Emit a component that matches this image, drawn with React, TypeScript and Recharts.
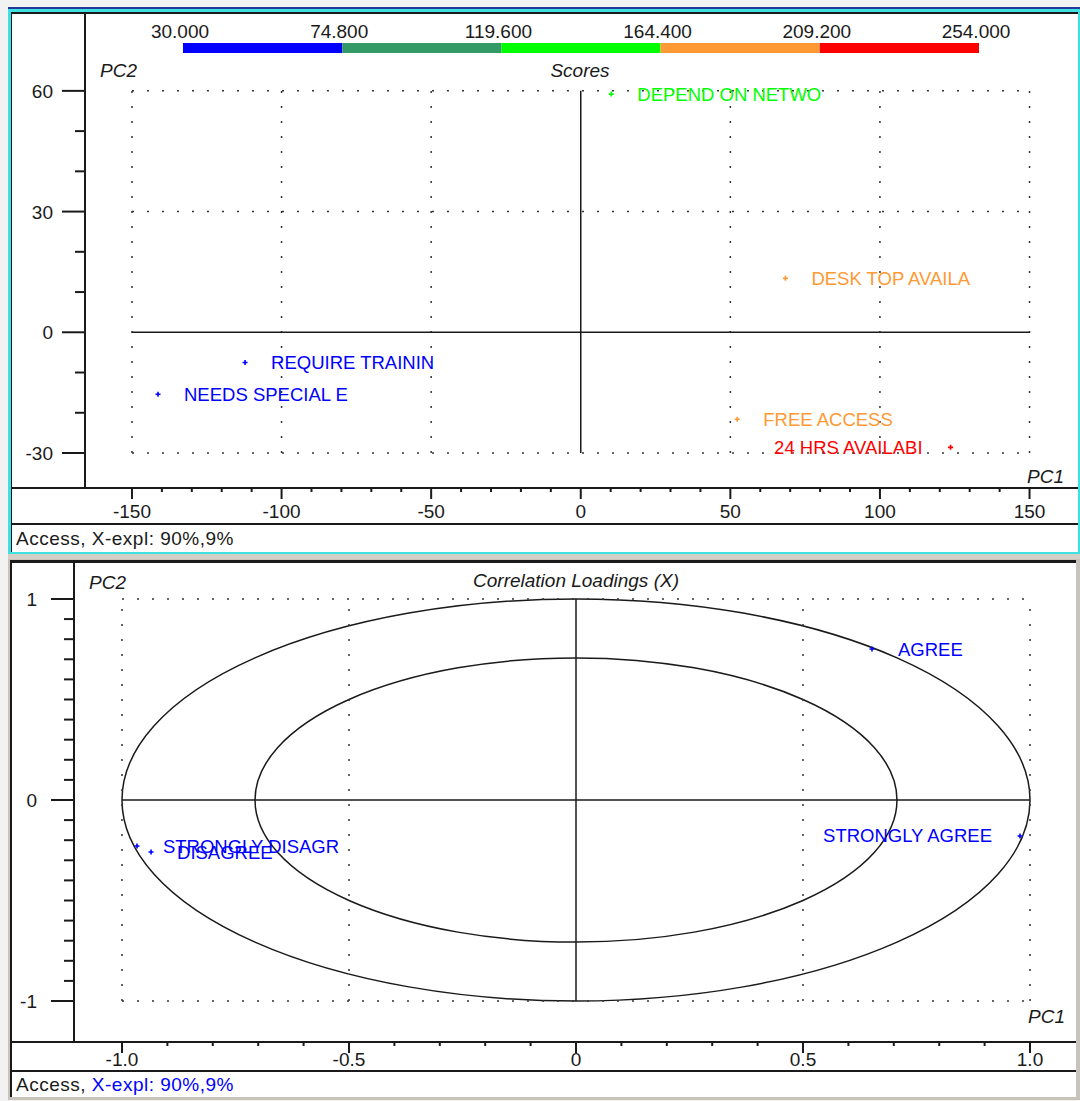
import {
  BarChart,
  Bar,
  ScatterChart,
  Scatter,
  XAxis,
  YAxis,
  ReferenceLine,
  ReferenceArea,
} from "recharts";

const FONT = '"Liberation Sans", Arial, Helvetica, sans-serif';
const INK = "#1a1a1a";

// colour classes used on the scores plot
const classBreaks = [30, 74.8, 119.6, 164.4, 209.2, 254];
const classColors = ["#0000ff", "#339966", "#00ff00", "#ff9933", "#ff0000"];

// Scores (PC1 / PC2)
const scoreNames = [
  "DEPEND ON NETWO",
  "DESK TOP AVAILA",
  "REQUIRE TRAININ",
  "NEEDS SPECIAL E",
  "FREE ACCESS",
  "24 HRS AVAILABI",
];
const scorePC1 = [10.2, 68.4, -112.2, -141.3, 52.3, 123.6];
const scorePC2 = [59.2, 13.4, -7.5, -15.4, -21.6, -28.6];
const scoreClass = [2, 3, 0, 0, 3, 4];

const scoreXTicks = [
  -150, -140, -130, -120, -110, -100, -90, -80, -70, -60, -50, -40, -30, -20, -10, 0,
  10, 20, 30, 40, 50, 60, 70, 80, 90, 100, 110, 120, 130, 140, 150,
];
const scoreYTicks = [-30, -20, -10, 0, 10, 20, 30, 40, 50, 60];
const scoreGridX = [-150, -100, -50, 50, 100, 150];
const scoreGridY = [60, 30, -30];

// Correlation loadings (X)
const loadNames = ["AGREE", "STRONGLY AGREE", "STRONGLY DISAGR", "DISAGREE"];
const loadPC1 = [0.652, 0.978, -0.967, -0.936];
const loadPC2 = [0.751, -0.179, -0.229, -0.259];

const loadTicks = [
  -1, -0.9, -0.8, -0.7, -0.6, -0.5, -0.4, -0.3, -0.2, -0.1, 0,
  0.1, 0.2, 0.3, 0.4, 0.5, 0.6, 0.7, 0.8, 0.9, 1,
];
const loadGridX = [-1, -0.5, 0.5, 1];
const loadGridY = [1, -1];
const circleRadii = [1, 0.707];

const scoreData = scoreNames.map((name, i) => ({
  name,
  x: scorePC1[i],
  y: scorePC2[i],
  color: classColors[scoreClass[i]],
}));

const loadData = loadNames.map((name, i) => ({
  name,
  x: loadPC1[i],
  y: loadPC2[i],
  color: "#0000ff",
}));

// one stacked row: transparent base up to the first break, then one segment per class
const colourRow: Record<string, number | string> = { name: "classes", base: classBreaks[0] };
classColors.forEach((_, i) => {
  colourRow[`c${i}`] = classBreaks[i + 1] - classBreaks[i];
});

const scoreXDomain = [-165.7, 166.2];
const scoreYDomain = [-38.7, 79.6];
const loadXDomain = [-1.1057, 1.1057];
const loadYDomain = [-1.204, 1.179];

const dotted = { stroke: "#333", strokeWidth: 1.5, strokeDasharray: "2 13" };

function pointShape(xMax: number) {
  return (p: any) => {
    const { cx, cy, payload } = p;
    const left = payload.x > xMax * 0.7;
    return (
      <g>
        <path
          d={`M${cx - 2.5},${cy}H${cx + 2.5}M${cx},${cy - 2.5}V${cy + 2.5}`}
          stroke={payload.color}
          strokeWidth={1.6}
        />
        <text
          x={left ? cx - 28 : cx + 26}
          y={cy + 6.5}
          textAnchor={left ? "end" : "start"}
          fill={payload.color}
          fontSize={18.5}
          fontFamily={FONT}
        >
          {payload.name}
        </text>
      </g>
    );
  };
}

function xTick(isMajor: (v: number) => boolean, fmt: (v: number) => string, labelGap: number) {
  return (p: any) => {
    const v = p.payload.value;
    const major = isMajor(v);
    return (
      <g>
        <line x1={p.x} x2={p.x} y1={p.y} y2={p.y + (major ? 11 : 4)} stroke={INK} strokeWidth={2} />
        {major && (
          <text x={p.x} y={p.y + labelGap + 7} textAnchor="middle" fontSize={19} fill={INK} fontFamily={FONT}>
            {fmt(v)}
          </text>
        )}
      </g>
    );
  };
}

function yTick(isMajor: (v: number) => boolean, fmt: (v: number) => string, labelGap: number) {
  return (p: any) => {
    const v = p.payload.value;
    const major = isMajor(v);
    return (
      <g>
        <line x1={p.x - (major ? 23 : 10)} x2={p.x} y1={p.y} y2={p.y} stroke={INK} strokeWidth={2} />
        {major && (
          <text x={p.x - labelGap} y={p.y + 7} textAnchor="end" fontSize={19} fill={INK} fontFamily={FONT}>
            {fmt(v)}
          </text>
        )}
      </g>
    );
  };
}

const near = (a: number, b: number) => Math.abs(a - b) < 1e-6;

function ColourBar() {
  return (
    <BarChart
      width={1080}
      height={60}
      layout="vertical"
      data={[colourRow]}
      barCategoryGap={0}
      margin={{ top: 10, right: 101, bottom: 7, left: 183 }}
    >
      <XAxis
        type="number"
        orientation="top"
        domain={[classBreaks[0], classBreaks[classBreaks.length - 1]]}
        allowDataOverflow
        ticks={classBreaks}
        interval={0}
        height={33}
        axisLine={false}
        tickLine={false}
        tickSize={0}
        tickMargin={0}
        tick={(p: any) => (
          <text x={p.x - 3} y={p.y - 5} textAnchor="middle" fontSize={19} fill={INK} fontFamily={FONT}>
            {Number(p.payload.value).toFixed(3)}
          </text>
        )}
      />
      <YAxis type="category" dataKey="name" hide />
      <Bar dataKey="base" stackId="s" fill="transparent" isAnimationActive={false} />
      {classColors.map((c, i) => (
        <Bar key={c} dataKey={`c${i}`} stackId="s" fill={c} isAnimationActive={false} />
      ))}
    </BarChart>
  );
}

function ScoresChart() {
  return (
    <ScatterChart width={1080} height={560} margin={{ top: 12, right: 2, bottom: 36, left: 12 }}>
      <XAxis
        type="number"
        dataKey="x"
        domain={scoreXDomain}
        allowDataOverflow
        ticks={scoreXTicks}
        interval={0}
        height={36}
        axisLine={false}
        tickLine={false}
        tickSize={0}
        tickMargin={0}
        tick={xTick((v) => v % 50 === 0, (v) => String(v), 23)}
      />
      <YAxis
        type="number"
        dataKey="y"
        domain={scoreYDomain}
        allowDataOverflow
        ticks={scoreYTicks}
        interval={0}
        width={73}
        axisLine={{ stroke: INK, strokeWidth: 2 }}
        tickLine={false}
        tickSize={0}
        tickMargin={0}
        tick={yTick((v) => v % 30 === 0, (v) => String(v), 32)}
      />
      {scoreGridX.map((gx) => (
        <ReferenceLine
          key={`gx${gx}`}
          segment={[{ x: gx, y: scoreGridY[scoreGridY.length - 1] }, { x: gx, y: scoreGridY[0] }]}
          {...dotted}
        />
      ))}
      {scoreGridY.map((gy) => (
        <ReferenceLine
          key={`gy${gy}`}
          segment={[{ x: scoreGridX[0], y: gy }, { x: scoreGridX[scoreGridX.length - 1], y: gy }]}
          {...dotted}
        />
      ))}
      <ReferenceLine
        segment={[{ x: 0, y: scoreGridY[scoreGridY.length - 1] }, { x: 0, y: scoreGridY[0] }]}
        stroke={INK}
        strokeWidth={1.5}
      />
      <ReferenceLine
        segment={[{ x: scoreGridX[0], y: 0 }, { x: scoreGridX[scoreGridX.length - 1], y: 0 }]}
        stroke={INK}
        strokeWidth={1.5}
      />
      <Scatter data={scoreData} shape={pointShape(scoreXDomain[1])} isAnimationActive={false} />
    </ScatterChart>
  );
}

function LoadingsChart() {
  return (
    <ScatterChart width={1080} height={540} margin={{ top: 3, right: 2, bottom: 22, left: 12 }}>
      <XAxis
        type="number"
        dataKey="x"
        domain={loadXDomain}
        allowDataOverflow
        ticks={loadTicks}
        interval={0}
        height={36}
        axisLine={false}
        tickLine={false}
        tickSize={0}
        tickMargin={0}
        tick={xTick(
          (v) => near(v * 2, Math.round(v * 2)),
          (v) => (v === 0 ? "0" : v.toFixed(1)),
          17
        )}
      />
      <YAxis
        type="number"
        dataKey="y"
        domain={loadYDomain}
        allowDataOverflow
        ticks={loadTicks}
        interval={0}
        width={62}
        axisLine={{ stroke: INK, strokeWidth: 2 }}
        tickLine={false}
        tickSize={0}
        tickMargin={0}
        tick={yTick((v) => near(v, Math.round(v)), (v) => String(v), 37)}
      />
      {loadGridX.map((gx) => (
        <ReferenceLine key={`gx${gx}`} segment={[{ x: gx, y: -1 }, { x: gx, y: 1 }]} {...dotted} />
      ))}
      {loadGridY.map((gy) => (
        <ReferenceLine key={`gy${gy}`} segment={[{ x: -1, y: gy }, { x: 1, y: gy }]} {...dotted} />
      ))}
      {circleRadii.map((r) => (
        <ReferenceArea
          key={`c${r}`}
          x1={-r}
          x2={r}
          y1={-r}
          y2={r}
          shape={(p: any) => (
            <ellipse
              cx={p.x + p.width / 2}
              cy={p.y + p.height / 2}
              rx={Math.abs(p.width) / 2}
              ry={Math.abs(p.height) / 2}
              fill="none"
              stroke={INK}
              strokeWidth={1.5}
            />
          )}
        />
      ))}
      <ReferenceLine segment={[{ x: 0, y: -1 }, { x: 0, y: 1 }]} stroke={INK} strokeWidth={1.5} />
      <ReferenceLine segment={[{ x: -1, y: 0 }, { x: 1, y: 0 }]} stroke={INK} strokeWidth={1.5} />
      <Scatter data={loadData} shape={pointShape(loadXDomain[1])} isAnimationActive={false} />
    </ScatterChart>
  );
}

const abs = (left: number, top: number, width: number, height: number, extra: any = {}) => ({
  position: "absolute" as const,
  left,
  top,
  width,
  height,
  boxSizing: "border-box" as const,
  ...extra,
});

export default function App() {
  const italic = { fontSize: 19, fontStyle: "italic", fill: INK, fontFamily: FONT };
  return (
    <div style={abs(0, 0, 1080, 1101, { background: "#f2f2f2", overflow: "hidden" })}>
      {/* top panel frame */}
      <div style={abs(8, 7, 1072, 2, { background: "#23389a" })} />
      <div style={abs(8, 9, 1072, 545, { background: "#3fe0e0" })} />
      <div
        style={abs(11, 12, 1067, 540, {
          background: "#ffffff",
          borderTop: `2px solid ${INK}`,
          borderLeft: `1px solid ${INK}`,
        })}
      />
      <div style={abs(11, 487, 1067, 2, { background: INK })} />
      <div style={abs(11, 523, 1067, 2, { background: INK })} />
      <div style={abs(8, 554, 1072, 5, { background: "#d4d0c8" })} />
      {/* bottom panel frame */}
      <div style={abs(8, 559, 1072, 541, { background: "#c8c4bc" })} />
      <div
        style={abs(10, 560, 1066, 537, {
          background: "#ffffff",
          borderTop: `3px solid ${INK}`,
          borderLeft: `2px solid ${INK}`,
        })}
      />
      <div style={abs(10, 1041, 1066, 2, { background: INK })} />
      <div style={abs(10, 1070, 1066, 2, { background: INK })} />

      <div style={abs(0, 0, 1080, 60)}>
        <ColourBar />
      </div>
      <div style={abs(0, 0, 1080, 560)}>
        <ScoresChart />
      </div>
      <div style={abs(0, 560, 1080, 540)}>
        <LoadingsChart />
      </div>

      <svg width={1080} height={1101} style={abs(0, 0, 1080, 1101, { pointerEvents: "none" })}>
        <text x={100} y={77} {...italic}>PC2</text>
        <text x={580} y={77} textAnchor="middle" {...italic}>Scores</text>
        <text x={1027} y={483} {...italic}>PC1</text>
        <text x={16} y={545} fontSize={19} letterSpacing={0.5} fill={INK} fontFamily={FONT}>
          Access, X-expl: 90%,9%
        </text>

        <text x={89} y={589} {...italic}>PC2</text>
        <text x={576} y={587} textAnchor="middle" {...italic}>Correlation Loadings (X)</text>
        <text x={1028} y={1023} {...italic}>PC1</text>
        <text x={16} y={1091} fontSize={19} letterSpacing={0.5} fill={INK} fontFamily={FONT}>
          Access,<tspan fill="#0000ff"> X-expl: 90%,9%</tspan>
        </text>
      </svg>
    </div>
  );
}
